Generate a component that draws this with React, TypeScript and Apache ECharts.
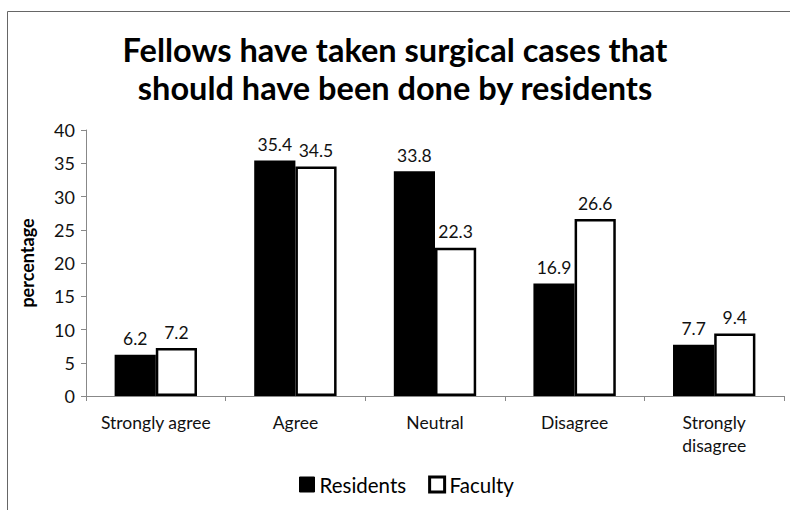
import React, { useEffect, useRef } from "react";
import * as echarts from "echarts";

const categories = ["Strongly agree", "Agree", "Neutral", "Disagree", "Strongly\ndisagree"];
const residents = [6.2, 35.4, 33.8, 16.9, 7.7];
const faculty = [7.2, 34.5, 22.3, 26.6, 9.4];
const titleLines = ["Fellows have taken surgical cases that", "should have been done by residents"];

const FONT = "Lato, 'Open Sans', sans-serif";

export default function App() {
  const ref = useRef<HTMLDivElement>(null);

  useEffect(() => {
    if (!ref.current) return;
    const chart = echarts.init(ref.current, null, { renderer: "svg" });
    const labelStyle = {
      show: true,
      position: "top" as const,
      distance: 7,
      color: "#111",
      fontSize: 17.5,
      fontFamily: FONT,
    };
    chart.setOption({
      animation: false,
      backgroundColor: "#fff",
      textStyle: { fontFamily: FONT },
      title: {
        text: titleLines.join("\n"),
        left: "center",
        top: 25,
        textStyle: {
          fontSize: 32.5,
          fontWeight: "bold",
          lineHeight: 38,
          color: "#000",
          fontFamily: FONT,
        },
      },
      legend: {
        bottom: 10,
        left: 294,
        itemGap: 22,
        itemWidth: 15,
        itemHeight: 15,
        icon: "rect",
        textStyle: { fontSize: 20.5, color: "#000", fontFamily: FONT },
        data: [
          { name: "Residents", itemStyle: { color: "#000", borderColor: "#000", borderWidth: 1 } },
          { name: "Faculty", itemStyle: { color: "#fff", borderColor: "#000", borderWidth: 3 } },
        ],
      },
      grid: { left: 86, right: 6, top: 130, bottom: 114 },
      xAxis: {
        type: "category",
        data: categories,
        axisLine: { lineStyle: { color: "#888", width: 1 } },
        axisTick: { show: true, length: 5, lineStyle: { color: "#888" } },
        axisLabel: {
          interval: 0,
          color: "#111",
          fontSize: 17.5,
          margin: 15,
          lineHeight: 23,
          fontFamily: FONT,
        },
      },
      yAxis: {
        type: "value",
        min: 0,
        max: 40,
        interval: 5,
        name: "percentage",
        nameLocation: "middle",
        nameGap: 50,
        nameTextStyle: { fontSize: 18, fontWeight: "bold", color: "#000", fontFamily: FONT },
        splitLine: { show: false },
        axisLine: { show: true, lineStyle: { color: "#888", width: 1 } },
        axisTick: { show: true, length: 5, lineStyle: { color: "#888" } },
        axisLabel: { color: "#111", fontSize: 18, margin: 11, fontFamily: FONT },
      },
      series: [
        {
          name: "Residents",
          type: "bar",
          data: residents,
          barGap: "0%",
          barCategoryGap: "41%",
          itemStyle: { color: "#000", borderColor: "#000", borderWidth: 2 },
          label: labelStyle,
        },
        {
          name: "Faculty",
          type: "bar",
          data: faculty,
          itemStyle: { color: "#fff", borderColor: "#000", borderWidth: 2.5 },
          label: labelStyle,
        },
      ],
      graphic: [
        {
          type: "polyline",
          shape: { points: [[7.5, 510], [7.5, 11.5], [790, 11.5]] },
          style: { stroke: "#666", lineWidth: 1, fill: "none" },
          silent: true,
        },
      ],
    });
    return () => chart.dispose();
  }, []);

  return (
    <div
      ref={ref}
      style={{ position: "fixed", left: 0, top: 0, width: 790, height: 510 }}
    />
  );
}
